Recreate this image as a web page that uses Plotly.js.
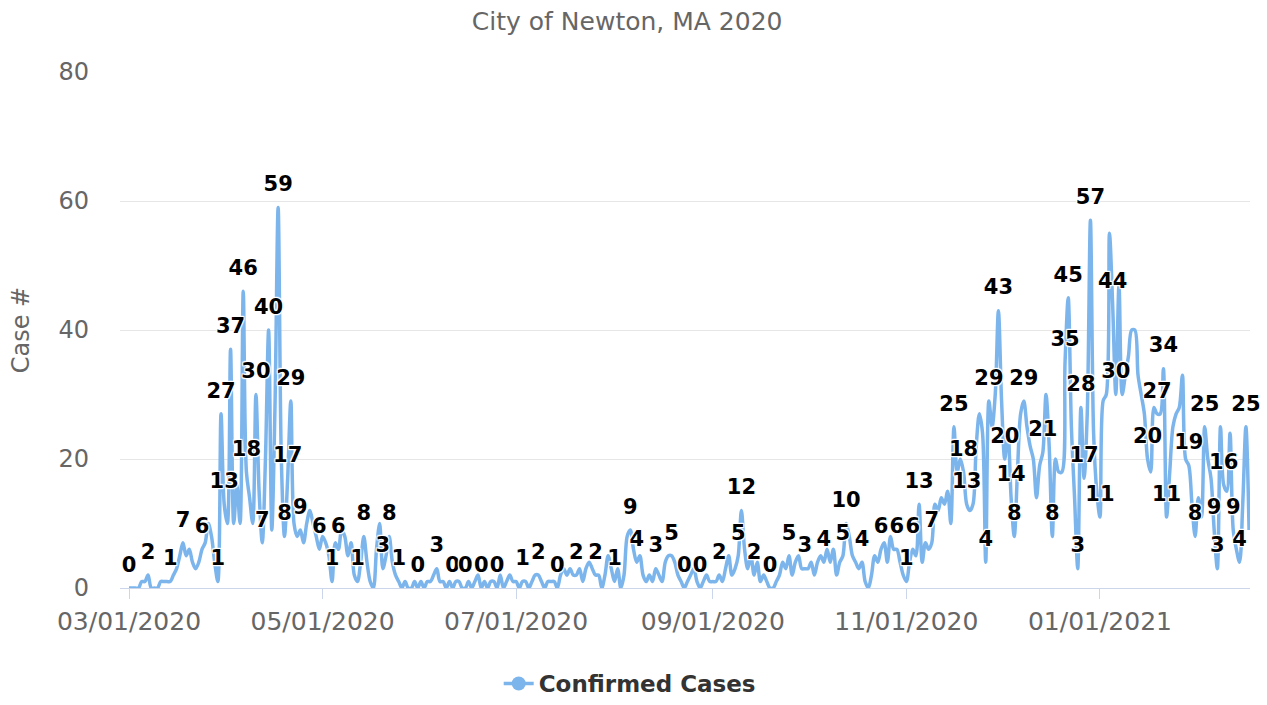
<!DOCTYPE html>
<html><head><meta charset="utf-8">
<script src="https://cdn.plot.ly/plotly-3.0.1.min.js"></script>
<style>html,body{margin:0;padding:0;background:#fff}#chart{width:1267px;height:705px}</style>
</head><body><div id="chart"></div>
<script>
// Daily confirmed cases, index = day of month - 1
const mar2020 = [0,0,0,0,1,1,2,0,0,0,1,1,1,1,2,3,5,7,5,6,4,3,4,6,7,10,8,4,1,27,13];
const apr2020 = [10,37,10,16,10,46,18,14,10,30,15,7,20,40,9,28,59,20,8,17,29,10,8,9,7,10,12,10,8,6];
const may2020 = [8,7,5,1,7,6,9,8,5,7,2,1,4,8,4,1,0,6,10,3,5,8,4,2,1,0,1,0,0,1,0];
const jun2020 = [1,0,1,1,2,3,1,1,0,1,0,1,1,0,0,1,0,1,2,0,1,0,1,1,0,2,0,1,2,1];
const jul2020 = [1,0,1,1,0,1,2,2,1,0,1,1,1,0,2,3,2,3,2,2,3,1,3,4,3,2,2,0,2,5,3];
const aug2020 = [1,3,0,2,8,9,6,4,5,2,1,2,1,3,2,1,4,5,5,4,2,1,0,1,2,3,1,0,1,2,1];
const sep2020 = [1,1,2,1,3,5,2,3,5,12,6,3,5,2,4,1,2,1,0,0,1,2,4,3,5,2,4,5,3,3];
const oct2020 = [3,4,2,4,5,4,6,4,6,2,4,5,10,8,5,4,3,4,1,0,2,5,4,6,7,4,8,6,6,4,2];
const nov2020 = [1,4,6,5,13,4,7,6,7,13,12,14,13,15,10,25,18,20,18,13,12,13,22,27,24,4,29,25,30,43];
const dec2020 = [29,20,24,14,8,18,27,29,25,22,20,14,19,21,30,22,8,20,18,18,35,45,25,14,3,28,17,27,57,24,15];
const jan2021 = [11,29,30,55,44,30,47,30,33,36,40,40,33,30,27,20,18,28,27,27,34,11,18,25,27,28,33,20,19,13,8];
const feb2021 = [14,11,25,20,17,9,3,25,16,15,24,9,6,4,13,25,9];

const monthKeys = ['2020-03','2020-04','2020-05','2020-06','2020-07','2020-08','2020-09','2020-10','2020-11','2020-12','2021-01','2021-02'];
const monthValues = [mar2020,apr2020,may2020,jun2020,jul2020,aug2020,sep2020,oct2020,nov2020,dec2020,jan2021,feb2021];

// Dates whose value is printed above the line
const labelDates = ['2020-03-01','2020-03-07','2020-03-14','2020-03-18','2020-03-24','2020-03-29','2020-03-30','2020-03-31',
 '2020-04-02','2020-04-06','2020-04-07','2020-04-10','2020-04-12','2020-04-14','2020-04-17','2020-04-19','2020-04-20','2020-04-21','2020-04-24','2020-04-30',
 '2020-05-04','2020-05-06','2020-05-12','2020-05-14','2020-05-20','2020-05-22','2020-05-25','2020-05-31',
 '2020-06-06','2020-06-11','2020-06-15','2020-06-20','2020-06-25',
 '2020-07-03','2020-07-08','2020-07-14','2020-07-20','2020-07-26',
 '2020-08-01','2020-08-06','2020-08-08','2020-08-14','2020-08-19','2020-08-23','2020-08-28',
 '2020-09-03','2020-09-09','2020-09-10','2020-09-14','2020-09-19','2020-09-25','2020-09-30',
 '2020-10-06','2020-10-12','2020-10-13','2020-10-18','2020-10-24','2020-10-29',
 '2020-11-01','2020-11-03','2020-11-05','2020-11-09','2020-11-16','2020-11-19','2020-11-20','2020-11-26','2020-11-27','2020-11-30',
 '2020-12-02','2020-12-04','2020-12-05','2020-12-08','2020-12-14','2020-12-17','2020-12-21','2020-12-22','2020-12-25','2020-12-26','2020-12-27','2020-12-29',
 '2021-01-01','2021-01-05','2021-01-06','2021-01-16','2021-01-19','2021-01-21','2021-01-22','2021-01-29','2021-01-31',
 '2021-02-03','2021-02-06','2021-02-07','2021-02-09','2021-02-12','2021-02-14','2021-02-16'];

const dates = [], cases = [];
monthKeys.forEach((ym, m) => monthValues[m].forEach((v, i) => {
  dates.push(ym + '-' + String(i + 1).padStart(2, '0'));
  cases.push(v);
}));
const labelY = labelDates.map(d => cases[dates.indexOf(d)]);

const lineColor = '#7cb5ec';
const outline = '1px 1px 1px #fff, -1px -1px 1px #fff, 1px -1px 1px #fff, -1px 1px 1px #fff, 0 1px 1px #fff, 0 -1px 1px #fff';

const traces = [
  {x: dates, y: cases, type: 'scatter', mode: 'lines', name: 'Confirmed Cases',
   line: {color: lineColor, width: 3.5, shape: 'spline', smoothing: 0.9}, showlegend: false},
  {x: labelDates, y: labelY, text: labelY.map(String), type: 'scatter', mode: 'markers+text',
   marker: {size: 16, opacity: 0}, textposition: 'top center',
   textfont: {family: 'DejaVu Sans', size: 21, color: '#000', weight: 'bold', shadow: outline},
   showlegend: false, hoverinfo: 'skip', cliponaxis: false},
  {x: [null], y: [null], type: 'scatter', mode: 'lines+markers', name: 'Confirmed Cases',
   line: {color: lineColor, width: 3.5}, marker: {color: lineColor, size: 14, symbol: 'circle'}}
];

const layout = {
  width: 1267, height: 705,
  margin: {l: 120, r: 17, t: 72, b: 117},
  paper_bgcolor: '#fff', plot_bgcolor: '#fff',
  font: {family: 'DejaVu Sans', color: '#666'},
  title: {text: 'City of Newton, MA 2020', font: {size: 25, color: '#666'},
          xref: 'container', x: 0.495, xanchor: 'center', yref: 'container', y: 0.97, yanchor: 'middle'},
  xaxis: {type: 'date', range: ['2020-02-27 03:50', '2021-02-17 07:00'], tickformat: '%m/%d/%Y',
          dtick: 'M2', tick0: '2020-03-01', ticks: 'outside', ticklen: 10, tickcolor: '#ccd6eb', tickwidth: 1,
          showline: true, linecolor: '#ccd6eb', linewidth: 1, showgrid: false, zeroline: false,
          tickfont: {size: 25, color: '#666'}, ticklabelstandoff: 1},
  yaxis: {range: [0, 80], dtick: 20, showgrid: true, gridcolor: '#e6e6e6', gridwidth: 1, zeroline: false,
          showline: false, ticks: '', tickfont: {size: 24, color: '#666'},
          ticklabelstandoff: 30,
          title: {text: 'Case #', font: {size: 24, color: '#666'}, standoff: 22}},
  showlegend: true,
  legend: {orientation: 'h', xref: 'container', yref: 'container', x: 0.497, xanchor: 'center',
           y: -0.006, yanchor: 'bottom', font: {size: 23, color: '#333', weight: 'bold'}},
  hovermode: false
};

Plotly.newPlot('chart', traces, layout, {displayModeBar: false, staticPlot: true});
</script>
</body></html>
